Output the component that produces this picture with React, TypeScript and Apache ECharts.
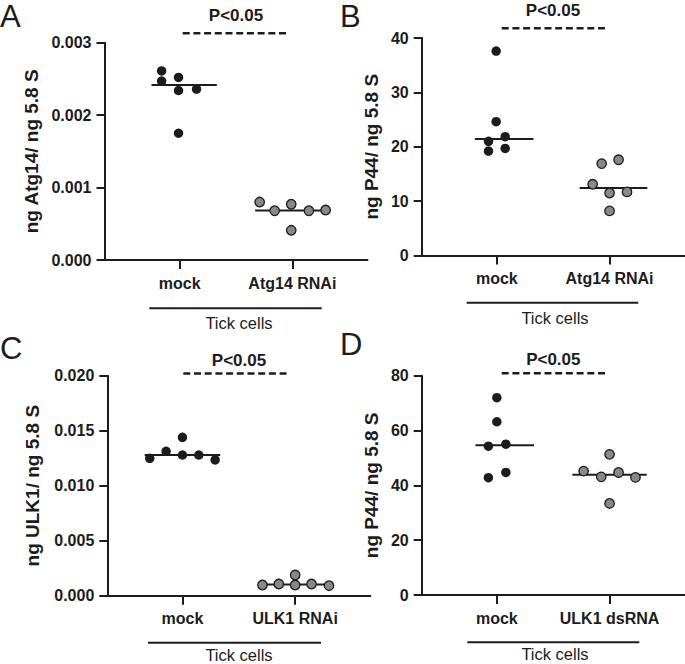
import React, { useEffect, useRef } from 'react';
import * as echarts from 'echarts';

const FONT = "'Liberation Sans', Arial, Helvetica, sans-serif";
const INK = '#1c1c1c';
const GREY = '#888888';

// ---- text ----
const panelLetters = ['A', 'B', 'C', 'D'];
const categoriesA = ['mock', 'Atg14 RNAi'];
const categoriesB = ['mock', 'Atg14 RNAi'];
const categoriesC = ['mock', 'ULK1 RNAi'];
const categoriesD = ['mock', 'ULK1 dsRNA'];
const yTitles = ['ng Atg14/ ng 5.8 S', 'ng P44/ ng 5.8 S', 'ng ULK1/ ng 5.8 S', 'ng P44/ ng 5.8 S'];
const groupLabel = 'Tick cells';
const pLabel = 'P<0.05';

// ---- axis ranges ----
const yMax = [0.003, 40, 0.02, 80];
const yStep = [0.001, 10, 0.005, 20];
const yDecimals = [3, 0, 3, 0];

// ---- data ----
const aMockValues = [0.00261, 0.00247, 0.00252, 0.00234, 0.00236, 0.00175];
const aMockJitter = [0.84, 0.84, 0.99, 0.99, 1.15, 0.99];
const aRnaiValues = [0.0008, 0.00068, 0.00077, 0.00041, 0.00068, 0.00069];
const aRnaiJitter = [1.71, 1.843, 1.99, 1.99, 2.147, 2.295];

const bMockValues = [37.6, 24.6, 21.0, 21.85, 19.2, 19.7];
const bMockJitter = [0.994, 0.994, 0.926, 1.074, 0.926, 1.074];
const bRnaiValues = [16.9, 17.6, 13.1, 11.5, 11.7, 8.2];
const bRnaiJitter = [1.93, 2.08, 1.85, 2.0, 2.155, 2.0];

const cMockValues = [0.01249, 0.01313, 0.0144, 0.01279, 0.01279, 0.01234];
const cMockJitter = [0.71, 0.855, 1.0, 1.0, 1.145, 1.29];
const cRnaiValues = [0.00097, 0.00106, 0.00188, 0.00097, 0.00106, 0.00091];
const cRnaiJitter = [1.71, 1.855, 2.0, 2.0, 2.145, 2.3];

const dMockValues = [72.0, 63.2, 54.3, 55.0, 42.8, 44.7];
const dMockJitter = [1.0, 1.0, 0.925, 1.08, 0.925, 1.08];
const dRnaiValues = [45.2, 43.1, 51.3, 44.7, 42.9, 33.4];
const dRnaiJitter = [1.77, 1.926, 2.0, 2.08, 2.23, 2.0];

// ---- layout (pixels) ----
const grids = [
  { left: 104.5, top: 42.7, width: 263, height: 217.3 },
  { left: 421.7, top: 38, width: 263, height: 217.5 },
  { left: 107.3, top: 375.7, width: 263, height: 220 },
  { left: 421.7, top: 375.7, width: 263, height: 219.3 },
];
const nameGaps = [63.3, 40.5, 65.5, 40.5];
// median line: [shift, halfWidth] for mock and treated
const medianShape = [
  [[0.04, 0.29], [0.0, 0.33]],
  [[0.065, 0.26], [0.035, 0.3]],
  [[0.0, 0.335], [0.0, 0.33]],
  [[0.07, 0.26], [0.0, 0.33]],
];

function median(arr: number[]) {
  const s = [...arr].sort((a, b) => a - b);
  const m = Math.floor(s.length / 2);
  return s.length % 2 ? s[m] : (s[m - 1] + s[m]) / 2;
}

const panels = [
  { cats: categoriesA, mock: aMockValues, mockX: aMockJitter, trt: aRnaiValues, trtX: aRnaiJitter },
  { cats: categoriesB, mock: bMockValues, mockX: bMockJitter, trt: bRnaiValues, trtX: bRnaiJitter },
  { cats: categoriesC, mock: cMockValues, mockX: cMockJitter, trt: cRnaiValues, trtX: cRnaiJitter },
  { cats: categoriesD, mock: dMockValues, mockX: dMockJitter, trt: dRnaiValues, trtX: dRnaiJitter },
];

function buildOption() {
  const xAxis: any[] = [];
  const yAxis: any[] = [];
  const series: any[] = [];
  panels.forEach((p, i) => {
    xAxis.push({
      type: 'value',
      gridIndex: i,
      min: 1 / 3,
      max: 8 / 3,
      splitLine: { show: false },
      axisLine: { show: true, lineStyle: { color: INK, width: 2 } },
      axisTick: { show: true, customValues: [1, 2], length: 9, lineStyle: { color: INK, width: 2 } },
      axisLabel: {
        show: true,
        customValues: [1, 2],
        formatter: (v: number) => p.cats[Math.round(v) - 1] ?? '',
        color: INK,
        fontFamily: FONT,
        fontWeight: 'bold',
        fontSize: 16,
        margin: 15,
      },
    });
    yAxis.push({
      type: 'value',
      gridIndex: i,
      min: 0,
      max: yMax[i],
      interval: yStep[i],
      name: yTitles[i],
      nameLocation: 'middle',
      nameGap: nameGaps[i],
      nameTextStyle: { color: INK, fontFamily: FONT, fontWeight: 'bold', fontSize: 19 },
      splitLine: { show: false },
      axisLine: { show: true, lineStyle: { color: INK, width: 2 } },
      axisTick: { show: true, length: 8, lineStyle: { color: INK, width: 2 } },
      axisLabel: {
        color: INK,
        fontFamily: FONT,
        fontWeight: 'bold',
        fontSize: 16,
        margin: 13,
        formatter: (v: number) => v.toFixed(yDecimals[i]),
      },
    });
    const mMed = median(p.mock);
    const tMed = median(p.trt);
    const [ms, mh] = medianShape[i][0];
    const [ts, th] = medianShape[i][1];
    series.push({
      type: 'line', xAxisIndex: i, yAxisIndex: i, symbol: 'none', z: 2,
      data: [[1 + ms - mh, mMed], [1 + ms + mh, mMed]],
      lineStyle: { color: INK, width: 2 },
    });
    series.push({
      type: 'line', xAxisIndex: i, yAxisIndex: i, symbol: 'none', z: 2,
      data: [[2 + ts - th, tMed], [2 + ts + th, tMed]],
      lineStyle: { color: INK, width: 2 },
    });
    series.push({
      type: 'scatter', xAxisIndex: i, yAxisIndex: i, z: 3,
      symbolSize: 9.5,
      data: p.mock.map((v, j) => [p.mockX[j], v]),
      itemStyle: { color: INK, opacity: 1 },
    });
    series.push({
      type: 'scatter', xAxisIndex: i, yAxisIndex: i, z: 3,
      symbolSize: 9.5,
      data: p.trt.map((v, j) => [p.trtX[j], v]),
      itemStyle: { color: GREY, borderColor: INK, borderWidth: 1.3, opacity: 1 },
    });
  });

  const letterPos = [[0, 16.5], [340, 16.5], [0, 348], [340, 344.5]];
  const pPos = [[236, 15], [553, 10], [239, 360], [553.3, 359.2]];
  const dashPos = [[182.7, 289.3, 33.3], [501.7, 606.7, 28.3], [183.3, 288.3, 373.5], [501.7, 608.3, 373.3]];
  const bracketPos = [[149.3, 321.7, 308.3], [466.7, 638.3, 302.7], [148, 321, 642.7], [467.3, 639.3, 642.3]];
  const groupPos = [[239, 322.5], [555, 317.5], [239, 655], [555, 653.5]];

  const graphic: any[] = [];
  for (let i = 0; i < 4; i++) {
    graphic.push({
      type: 'text', x: letterPos[i][0], y: letterPos[i][1],
      style: { text: panelLetters[i], fill: INK, font: `normal 31px ${FONT}`, align: 'left', verticalAlign: 'middle' },
    });
    graphic.push({
      type: 'text', x: pPos[i][0], y: pPos[i][1],
      style: { text: pLabel, fill: INK, font: `bold 17px ${FONT}`, align: 'center', verticalAlign: 'middle' },
    });
    graphic.push({
      type: 'line',
      shape: { x1: dashPos[i][0], y1: dashPos[i][2], x2: dashPos[i][1], y2: dashPos[i][2] },
      style: { stroke: INK, lineWidth: 2.5, lineDash: [7, 3.7] },
    });
    graphic.push({
      type: 'line',
      shape: { x1: bracketPos[i][0], y1: bracketPos[i][2], x2: bracketPos[i][1], y2: bracketPos[i][2] },
      style: { stroke: INK, lineWidth: 2 },
    });
    graphic.push({
      type: 'text', x: groupPos[i][0], y: groupPos[i][1],
      style: { text: groupLabel, fill: INK, font: `normal 16.5px ${FONT}`, align: 'center', verticalAlign: 'middle' },
    });
  }

  return {
    animation: false,
    backgroundColor: '#ffffff',
    grid: grids.map((g) => ({ ...g, containLabel: false })),
    xAxis,
    yAxis,
    series,
    graphic,
  };
}

export default function App() {
  const ref = useRef<HTMLDivElement>(null);
  useEffect(() => {
    if (!ref.current) return;
    const chart = echarts.init(ref.current, undefined, { renderer: 'svg' });
    chart.setOption(buildOption() as any);
    return () => chart.dispose();
  }, []);
  return (
    <div
      ref={ref}
      style={{ position: 'absolute', left: 0, top: 0, width: 685, height: 664, background: '#fff' }}
    />
  );
}
